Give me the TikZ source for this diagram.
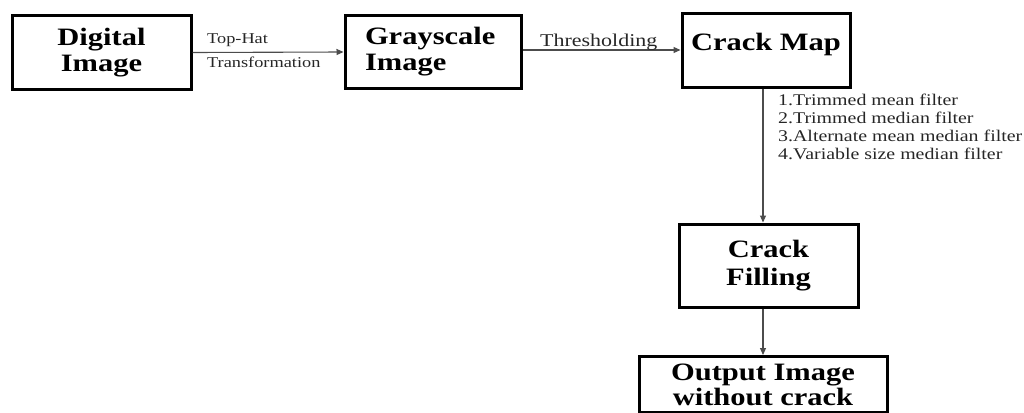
\documentclass[tikz,border=0pt]{standalone}
\usepackage{fontspec}
\setmainfont[FakeStretch=1.22]{Liberation Serif}
\usetikzlibrary{arrows.meta}
\begin{document}
\begin{tikzpicture}[x=1pt,y=-1pt,
  box/.style={draw=black, line width=3pt, inner sep=0pt, text=black,
    font=\fontsize{25}{26}\selectfont\bfseries, align=center},
  arr/.style={draw=black!70, line width=1.1pt, -{Triangle[length=7pt,width=6pt]}},
  lab/.style={font=\fontsize{15}{18}\selectfont, inner sep=0pt, text=black!85, anchor=base west}]
\useasboundingbox (0,0) rectangle (1024,412);
\clip (0,0) rectangle (1024,412);
\node[box, minimum width=179pt, minimum height=73pt] (di) at (101.5,52.5) {Digital\\Image};
\node[box, minimum height=72pt, inner xsep=20pt, text width=136pt, align=left] (gi) at (433,52) {Grayscale\\Image};
\node[box, minimum width=168pt, minimum height=73pt, text height=18pt, text depth=19pt] (cm) at (766,50.5) {Crack Map};
\node[box, minimum width=179pt, minimum height=83pt, font=\fontsize{25}{28}\selectfont\bfseries] (cf) at (768.5,265.5) {Crack\\Filling};
\node[box, minimum width=248pt, inner ysep=7pt, anchor=north, font=\fontsize{25}{25}\selectfont\bfseries] (out) at (763,355) {Output Image\\without crack};
\draw[arr] (di.east) -- (gi.west);
\draw[arr] (gi.east |- 0,50) -- (cm.west |- 0,50);
\draw[arr] (cm.south -| 763,0) -- (cf.north -| 763,0);
\draw[arr] (out.north |- cf.south) -- (out.north);
\node[lab] (t1) at (207,44) {Top-Hat};
\node[lab] (t2) at (207,67) {Transformation};
\node[lab, font=\fontsize{18}{20}\selectfont] (th) at (540,47) {Thresholding};
\node[lab, font=\fontsize{16.3}{18}\selectfont] (f1) at (778,105) {1.Trimmed mean filter};
\node[lab, font=\fontsize{16.3}{18}\selectfont] (f2) at (778,123) {2.Trimmed median filter};
\node[lab, font=\fontsize{16.3}{18}\selectfont] (f3) at (778,141) {3.Alternate mean median filter};
\node[lab, font=\fontsize{16.3}{18}\selectfont] (f4) at (778,159) {4.Variable size median filter};
\end{tikzpicture}
\end{document}
